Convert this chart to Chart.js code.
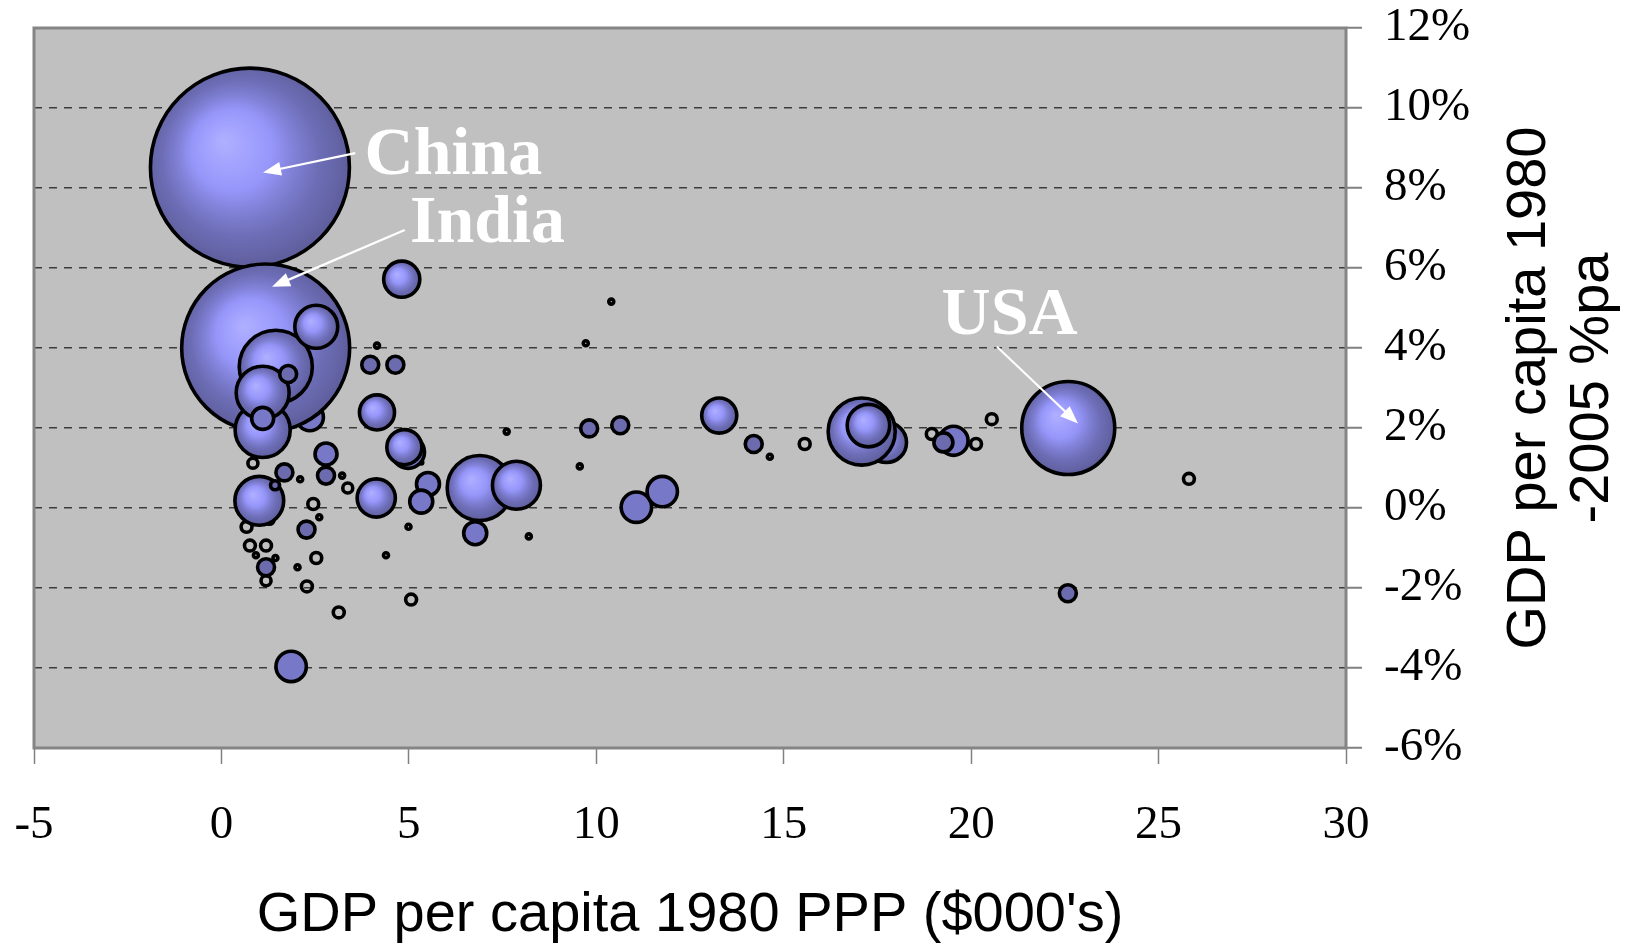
<!DOCTYPE html>
<html>
<head>
<meta charset="utf-8">
<script src="https://cdn.jsdelivr.net/npm/chart.js@4"></script>
<style>
  html, body { margin: 0; padding: 0; background: #ffffff; }
  #wrap { width: 1631px; height: 945px; }
</style>
</head>
<body>
<div id="wrap"><canvas id="chart"></canvas></div>
<script>
// GDP per capita in 1980 ($000's, PPP) against average GDP per capita growth 1980-2005 (% pa).
// Bubble area follows population (millions).

// Countries drawn as shaded bubbles
const gdp1980 = [2.36, 0.76, 1.18, 22.59, 1.45, 17.74, 17.08, 6.89, 1.10, 1.10, 1.01, 7.87, 2.53, 17.26,
  4.13, 4.81, 4.98, 4.15, 13.28, 4.88, 11.07, 11.76, 1.86, 19.53, 2.79, 1.10, 6.77, 5.51, 5.33, 19.26,
  1.78, 3.97, 4.64, 2.79, 1.68, 2.27, 1.19, 9.81, 10.64, 14.20, 22.58, 1.43];
const growth = [2.27, 8.51, 4.00, 2.00, 3.53, 1.64, 1.91, 0.50, 1.95, 2.88, 0.18, 0.57, 4.53, 2.06,
  0.25, 5.72, 1.40, 2.39, 2.31, 1.52, 0.02, 0.41, -3.96, 1.68, 1.35, 2.24, -0.63, 0.60, 0.16, 1.64,
  3.35, 3.58, 3.58, 0.81, 0.89, -0.54, -1.48, 1.99, 2.07, 1.60, -2.13, 0.57];
const population = [19, 1030, 734, 225, 139, 42, 117, 110, 79, 73, 62, 60, 48, 47,
  38, 34, 28, 32, 32, 32, 24, 24, 24, 22, 12.6, 12.6, 13.8, 13.8, 13.8, 9.4,
  7.5, 7.5, 7.5, 7.5, 7.5, 7.5, 7.5, 7.5, 7.5, 7.5, 7.5, 2.1];

// Countries drawn as outlines only
const gdp1980Outline = [0.84, 2.10, 3.22, 3.37, 1.28, 0.67, 2.45, 2.61, 0.76, 1.19, 0.92, 1.44, 1.19,
  2.03, 2.53, 2.28, 3.13, 4.39, 4.99, 5.06, 10.40, 9.72, 7.61, 9.56, 6.59, 7.69, 8.20, 14.63, 15.56,
  18.10, 18.95, 20.13, 20.55, 25.81, 4.15, 0.55, 5.33];
const growthOutline = [1.12, 0.72, 0.81, 0.50, -0.29, -0.47, 0.10, -0.23, -0.94, -0.94, -1.18, -1.25, -1.82,
  -1.48, -1.25, -1.96, -2.61, -1.18, -0.47, -2.29, 5.16, 4.12, 1.91, 1.04, 1.20, 0.66, -0.71, 1.28, 1.60,
  1.77, 1.85, 1.60, 2.22, 0.73, 4.06, 2.20, 1.14];
const populationOutline = [2.6, 0.65, 0.65, 2.6, 2.3, 3.1, 3.1, 0.65, 3.1, 3.1, 0.65, 0.65, 2.6,
  0.65, 3.1, 3.1, 3.1, 0.65, 0.65, 3.1, 0.65, 0.65, 0.65, 0.65, 0.65, 0.65, 0.65, 0.65, 3.1,
  3.1, 3.1, 3.1, 3.1, 3.1, 0.65, 1.3, 0.23];

// Axis ticks
const xTickValues = [-5, 0, 5, 10, 15, 20, 25, 30];
const xTickLabels = ['-5', '0', '5', '10', '15', '20', '25', '30'];
const yTickValues = [-6, -4, -2, 0, 2, 4, 6, 8, 10, 12];
const yTickLabels = ['-6%', '-4%', '-2%', '0%', '2%', '4%', '6%', '8%', '10%', '12%'];

// Called-out countries
const calloutNames = ['China', 'India', 'USA'];
const calloutPlacement = [
  { text: [3.82, 8.35], tail: [3.57, 8.87], head: [1.11, 8.39] },
  { text: [5.03, 6.64], tail: [4.89, 6.95], head: [1.35, 5.53] },
  { text: [19.21, 4.35], tail: [20.69, 4.03], head: [22.85, 2.11] }
];

const RADIUS_PER_ROOT = 3.1;
const toPoints = (xs, ys, sizes) => xs.map((x, i) => ({ x, y: ys[i], r: RADIUS_PER_ROOT * Math.sqrt(sizes[i]) }));

const SERIF = "'Liberation Serif', 'Times New Roman', serif";
const SANS = "'Liberation Sans', Arial, sans-serif";

function bubbleFill(ctx) {
  const raw = ctx.raw;
  if (!raw) return '#7878c8';
  const r = raw.r;
  if (r < 10) return '#6b6bad';
  if (r < 17) return '#7878c8';
  const chart = ctx.chart;
  const xs = chart.scales && chart.scales.x, ys = chart.scales && chart.scales.y;
  if (!xs || !ys) return '#8a8ae6';
  const cx = xs.getPixelForValue(raw.x);
  const cy = ys.getPixelForValue(raw.y);
  if (!Number.isFinite(cx) || !Number.isFinite(cy)) return '#8a8ae6';
  const g = chart.ctx.createRadialGradient(cx - 0.27 * r, cy - 0.27 * r, 0, cx - 0.04 * r, cy - 0.04 * r, r * 1.02);
  g.addColorStop(0, '#b0b0ff');
  g.addColorStop(0.18, '#a4a4ff');
  g.addColorStop(0.4, '#9696fa');
  g.addColorStop(0.58, '#8080d6');
  g.addColorStop(0.76, '#6e6eb8');
  g.addColorStop(1, '#5f5f9e');
  return g;
}

const plotFrame = {
  id: 'plotFrame',
  beforeDraw(chart) {
    const { ctx, chartArea: a } = chart;
    ctx.save();
    ctx.fillStyle = '#c0c0c0';
    ctx.fillRect(a.left, a.top, a.right - a.left, a.bottom - a.top);
    ctx.restore();
  },
  beforeDatasetsDraw(chart) {
    const { ctx, chartArea: a } = chart;
    ctx.save();
    ctx.strokeStyle = '#858585';
    ctx.lineWidth = 3;
    ctx.strokeRect(a.left, a.top, a.right - a.left, a.bottom - a.top);
    ctx.restore();
  }
};

// Vertical title on the right, reading bottom to top
const rightTitle = {
  id: 'rightTitle',
  afterDraw(chart) {
    const { ctx, chartArea: a } = chart;
    const cy = (a.top + a.bottom) / 2;
    const lines = ['GDP per capita 1980', '-2005 %pa'];
    const baselines = [1545, 1608];
    ctx.save();
    ctx.fillStyle = '#000000';
    ctx.font = '56px ' + SANS;
    ctx.textAlign = 'center';
    ctx.textBaseline = 'alphabetic';
    lines.forEach((t, i) => {
      ctx.save();
      ctx.translate(baselines[i], cy);
      ctx.rotate(-Math.PI / 2);
      ctx.fillText(t, 0, 0);
      ctx.restore();
    });
    ctx.restore();
  }
};

// White labels and arrows for the named countries
const callouts = {
  id: 'callouts',
  afterDatasetsDraw(chart) {
    const { ctx, scales: { x, y } } = chart;
    const px = p => [x.getPixelForValue(p[0]), y.getPixelForValue(p[1])];
    ctx.save();
    ctx.fillStyle = '#ffffff';
    ctx.strokeStyle = '#ffffff';
    ctx.lineWidth = 2.2;
    ctx.font = 'bold 68px ' + SERIF;
    ctx.textAlign = 'left';
    ctx.textBaseline = 'alphabetic';
    calloutNames.forEach((name, i) => {
      const c = calloutPlacement[i];
      const [tx, ty] = px(c.text);
      ctx.fillText(name, tx, ty);
      const [x1, y1] = px(c.tail);
      const [x2, y2] = px(c.head);
      const ang = Math.atan2(y2 - y1, x2 - x1);
      const L = 18, W = 7;
      ctx.beginPath();
      ctx.moveTo(x1, y1);
      ctx.lineTo(x2 - 0.8 * L * Math.cos(ang), y2 - 0.8 * L * Math.sin(ang));
      ctx.stroke();
      ctx.beginPath();
      ctx.moveTo(x2, y2);
      ctx.lineTo(x2 - L * Math.cos(ang) + W * Math.sin(ang), y2 - L * Math.sin(ang) - W * Math.cos(ang));
      ctx.lineTo(x2 - L * Math.cos(ang) - W * Math.sin(ang), y2 - L * Math.sin(ang) + W * Math.cos(ang));
      ctx.closePath();
      ctx.fill();
    });
    ctx.restore();
  }
};

// fixed axis boxes, with no extra room reserved for labels overhanging the plot
const fixX = s => { s.height = 197; s.paddingLeft = 0; s.paddingRight = 0; };
const fixY = s => { s.width = 285; s.paddingTop = 0; s.paddingBottom = 0; };

const chart = new Chart(document.getElementById('chart'), {
  type: 'bubble',
  data: {
    datasets: [
      {
        label: 'Countries',
        data: toPoints(gdp1980, growth, population),
        backgroundColor: bubbleFill,
        borderColor: '#000000',
        borderWidth: 3.6
      },
      {
        label: 'Countries (outline)',
        data: toPoints(gdp1980Outline, growthOutline, populationOutline),
        backgroundColor: 'rgba(0,0,0,0)',
        borderColor: '#000000',
        borderWidth: 3.6
      }
    ]
  },
  options: {
    responsive: true,
    maintainAspectRatio: false,
    animation: false,
    events: [],
    layout: { autoPadding: false, padding: { left: 34, top: 28, right: 0, bottom: 0 } },
    plugins: { legend: { display: false }, tooltip: { enabled: false } },
    scales: {
      x: {
        type: 'linear',
        position: 'bottom',
        min: -5,
        max: 30,
        afterBuildTicks: s => { s.ticks = xTickValues.map(v => ({ value: v })); },
        afterFit: fixX,
        ticks: {
          color: '#000000',
          font: { family: SERIF, size: 47, lineHeight: 1 },
          padding: 38,
          maxRotation: 0,
          autoSkip: false,
          callback: v => xTickLabels[xTickValues.indexOf(v)]
        },
        grid: { drawOnChartArea: false, drawTicks: true, tickLength: 16, tickColor: '#808080', tickWidth: 1.5 },
        border: { display: false },
        title: {
          display: true,
          text: 'GDP per capita 1980 PPP ($000\'s)',
          color: '#000000',
          font: { family: SANS, size: 56, lineHeight: 1 },
          padding: { top: 0, bottom: 1 }
        }
      },
      y: {
        type: 'linear',
        position: 'right',
        min: -6,
        max: 12,
        afterBuildTicks: s => { s.ticks = yTickValues.map(v => ({ value: v })); },
        afterFit: fixY,
        ticks: {
          color: '#000000',
          font: { family: SERIF, size: 47, lineHeight: 1 },
          padding: 22,
          autoSkip: false,
          callback: v => yTickLabels[yTickValues.indexOf(v)]
        },
        grid: { color: '#3c3c3c', lineWidth: 1.5, drawTicks: true, tickLength: 16, tickColor: '#808080', tickWidth: 2 },
        border: { display: false, dash: [8, 7] }
      }
    }
  },
  plugins: [plotFrame, rightTitle, callouts]
});
// repaint once the scales are laid out so the shaded fills pick up their positions
chart.update();
</script>
</body>
</html>
